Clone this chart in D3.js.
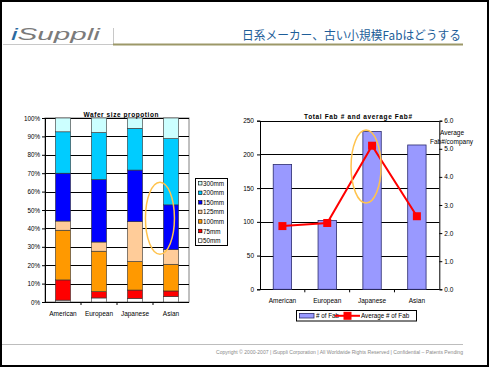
<!DOCTYPE html>
<html>
<head>
<meta charset="utf-8">
<script src="https://cdn.jsdelivr.net/npm/d3@7"></script>
<style>
  body { margin: 0; background: #fff; }
  svg text { font-family: "Liberation Sans", Arial, sans-serif; }
</style>
</head>
<body>
<div id="slide"></div>
<script>
const regions = ["American", "European", "Japanese", "Asian"];
const sizes = ["50mm", "75mm", "100mm", "125mm", "150mm", "200mm", "300mm"];
const share50 = [1, 2.2, 2, 3];
const share75 = [11, 3.4, 4.5, 3];
const share100 = [27, 22, 15.5, 14.5];
const share125 = [5, 5, 21.7, 8];
const share150 = [26, 34, 28, 24.3];
const share200 = [22.5, 25.5, 22.7, 36];
const share300 = [7.5, 7.9, 5.6, 11.2];
const sizeColors = ["#ffffff", "#ff0000", "#ff9900", "#ffcc99", "#0000ff", "#00ccff", "#ccffff"];
const pctTicks = [0, 10, 20, 30, 40, 50, 60, 70, 80, 90, 100];

const fabCount = [185, 102, 234, 214];
const avgFab = [2.25, 2.36, 5.11, 2.6];
const fabTicks = [0, 50, 100, 150, 200, 250];
const avgTicks = [0, 1, 2, 3, 4, 5, 6];

const W = 489, H = 367;
const svg = d3.select("#slide").append("svg")
    .attr("width", W)
    .attr("height", H);

svg.append("rect")
    .attr("x", 1).attr("y", 1)
    .attr("width", W - 2).attr("height", H - 2)
    .attr("fill", "#fff")
    .attr("stroke", "#000")
    .attr("stroke-width", 2);

// header
svg.append("text")
    .attr("x", 11).attr("y", 40)
    .attr("textLength", 89).attr("lengthAdjust", "spacingAndGlyphs")
    .style("font-size", "17px").style("font-style", "italic")
    .html('<tspan fill="#2c6aa0">i</tspan><tspan fill="#7b7b7b">Suppli</tspan>');
svg.append("line").attr("x1", 3).attr("x2", 113).attr("y1", 44.5).attr("y2", 44.5)
    .attr("stroke", "#c8c8c8").attr("stroke-width", 1);
svg.append("line").attr("x1", 113.5).attr("x2", 113.5).attr("y1", 28).attr("y2", 44)
    .attr("stroke", "#c8c8c8").attr("stroke-width", 1);
svg.append("line").attr("x1", 113).attr("x2", 463).attr("y1", 44.5).attr("y2", 44.5)
    .attr("stroke", "#9c9868").attr("stroke-width", 2);
svg.append("text")
    .attr("x", 461).attr("y", 39.5)
    .attr("text-anchor", "end")
    .attr("textLength", 219).attr("lengthAdjust", "spacingAndGlyphs")
    .attr("fill", "#1e5e99")
    .style("font-family", "'Noto Sans CJK JP', sans-serif")
    .style("font-size", "12.3px")
    .text("日系メーカー、古い小規模Fabはどうする");

// footer
svg.append("line").attr("x1", 2).attr("x2", 463).attr("y1", 344.5).attr("y2", 344.5)
    .attr("stroke", "#bdbdbd").attr("stroke-width", 1);
svg.append("text")
    .attr("x", 463).attr("y", 354)
    .attr("text-anchor", "end")
    .attr("textLength", 247).attr("lengthAdjust", "spacingAndGlyphs")
    .attr("fill", "#8a8a8a")
    .style("font-size", "5px")
    .text("Copyright \u00a9 2000-2007  |  iSuppli Corporation  |  All Worldwide Rights Reserved  |  Confidential \u2013 Patents Pending");

// ---------- left: stacked percentage bars ----------
function drawWaferChart() {
    const left = 45, right = 189, top = 118, bottom = 302;
    const g = svg.append("g");

    const x = d3.scaleBand().domain(regions).range([left, right])
        .paddingInner(0.58).paddingOuter(0.29);
    const y = d3.scaleLinear().domain([0, 100]).range([bottom, top]);

    const rows = regions.map((r, i) => ({
        region: r,
        "50mm": share50[i], "75mm": share75[i], "100mm": share100[i], "125mm": share125[i],
        "150mm": share150[i], "200mm": share200[i], "300mm": share300[i]
    }));
    const series = d3.stack().keys(sizes)(rows);

    g.append("rect")
        .attr("x", left).attr("y", top)
        .attr("width", right - left).attr("height", bottom - top)
        .attr("fill", "none").attr("stroke", "#808080");

    g.append("g")
        .selectAll("line")
        .data(pctTicks)
      .enter().append("line")
        .attr("x1", left).attr("x2", right)
        .attr("y1", d => Math.round(y(d)) + 0.5).attr("y2", d => Math.round(y(d)) + 0.5)
        .attr("stroke", "#000").attr("stroke-width", 1);

    const yAxis = g.append("g")
        .attr("transform", `translate(${left},0)`)
        .call(d3.axisLeft(y).tickValues(pctTicks).tickFormat(d => d + "%").tickSize(3).tickPadding(2));
    yAxis.select(".domain").attr("stroke", "#000");
    yAxis.selectAll("text").style("font-size", "6.3px").attr("fill", "#000");

    g.append("line").attr("x1", left).attr("x2", right).attr("y1", bottom + 0.5).attr("y2", bottom + 0.5)
        .attr("stroke", "#000");
    g.append("g")
        .selectAll("line")
        .data(regions.slice(1))
      .enter().append("line")
        .attr("x1", d => x(d) - x.step() * x.paddingInner() / 2)
        .attr("x2", d => x(d) - x.step() * x.paddingInner() / 2)
        .attr("y1", bottom).attr("y2", bottom + 3)
        .attr("stroke", "#000");

    g.append("g")
        .selectAll("text")
        .data(regions)
      .enter().append("text")
        .attr("x", d => x(d) + x.bandwidth() / 2)
        .attr("y", 315.5)
        .attr("text-anchor", "middle")
        .style("font-size", "6.5px")
        .text(d => d);

    g.selectAll(".layer")
        .data(series)
      .enter().append("g")
        .attr("class", "layer")
        .attr("fill", (d, i) => sizeColors[i])
      .selectAll("rect")
        .data(d => d)
      .enter().append("rect")
        .attr("x", d => x(d.data.region))
        .attr("y", d => y(d[1]))
        .attr("width", x.bandwidth())
        .attr("height", d => y(d[0]) - y(d[1]))
        .attr("stroke", "#333")
        .attr("stroke-width", 0.6);

    g.append("text")
        .attr("x", 121).attr("y", 116.5)
        .attr("text-anchor", "middle")
        .attr("textLength", 75)
        .style("font-size", "6.5px").style("font-weight", "bold")
        .text("Wafer size propotion");

    // legend
    const lg = g.append("g");
    lg.append("rect")
        .attr("x", 195.5).attr("y", 178.5).attr("width", 32).attr("height", 67)
        .attr("fill", "#fff").attr("stroke", "#000");
    const order = sizes.slice().reverse();
    const item = lg.selectAll(".item")
        .data(order)
      .enter().append("g")
        .attr("transform", (d, i) => `translate(0,${183.5 + i * 9.55})`);
    item.append("rect")
        .attr("x", 198.5).attr("y", -2).attr("width", 3.5).attr("height", 3.5)
        .attr("fill", d => sizeColors[sizes.indexOf(d)])
        .attr("stroke", "#000").attr("stroke-width", 0.6);
    item.append("text")
        .attr("x", 203).attr("y", 2.3)
        .style("font-size", "6.3px")
        .text(d => d);

    g.append("ellipse")
        .attr("cx", x("Asian") - 3.5).attr("cy", y(45.5))
        .attr("rx", 14.5).attr("ry", 36)
        .attr("fill", "none").attr("stroke", "#ffc34d").attr("stroke-width", 1.5);
}

// ---------- right: bars + line on two axes ----------
function drawFabChart() {
    const left = 260, right = 439.3, top = 120.7, bottom = 289.3;
    const g = svg.append("g");

    const x = d3.scaleBand().domain(regions).range([left, right])
        .paddingInner(0.59).paddingOuter(0.295);
    const yL = d3.scaleLinear().domain([0, 250]).range([bottom, top]);
    const yR = d3.scaleLinear().domain([0, 6]).range([bottom, top]);

    g.append("g")
        .selectAll("line")
        .data(fabTicks)
      .enter().append("line")
        .attr("x1", left).attr("x2", right)
        .attr("y1", d => Math.round(yL(d)) + 0.5).attr("y2", d => Math.round(yL(d)) + 0.5)
        .attr("stroke", "#000");

    const axL = g.append("g")
        .attr("transform", `translate(${left},0)`)
        .call(d3.axisLeft(yL).tickValues(fabTicks).tickSize(3).tickPadding(3));
    axL.selectAll("text").style("font-size", "6.5px");

    const axR = g.append("g")
        .attr("transform", `translate(${right},0)`)
        .call(d3.axisRight(yR).tickValues(avgTicks).tickFormat(d3.format(".1f")).tickSize(3).tickPadding(2));
    axR.selectAll("text").style("font-size", "6.5px");

    g.append("g")
        .selectAll("line")
        .data(regions.slice(1))
      .enter().append("line")
        .attr("x1", d => x(d) - x.step() * x.paddingInner() / 2)
        .attr("x2", d => x(d) - x.step() * x.paddingInner() / 2)
        .attr("y1", bottom).attr("y2", bottom + 3)
        .attr("stroke", "#000");

    g.selectAll(".fab")
        .data(fabCount)
      .enter().append("rect")
        .attr("class", "fab")
        .attr("x", (d, i) => x(regions[i]))
        .attr("y", d => yL(d))
        .attr("width", x.bandwidth())
        .attr("height", d => bottom - yL(d))
        .attr("fill", "#9999ff")
        .attr("stroke", "#2b2b6e")
        .attr("stroke-width", 0.8);

    g.append("g")
        .selectAll("text")
        .data(regions)
      .enter().append("text")
        .attr("x", d => x(d) + x.bandwidth() / 2)
        .attr("y", 302.5)
        .attr("text-anchor", "middle")
        .style("font-size", "6.5px")
        .text(d => d);

    const line = d3.line()
        .x((d, i) => x(regions[i]) + x.bandwidth() / 2)
        .y(d => yR(d));
    g.append("path")
        .datum(avgFab)
        .attr("d", line)
        .attr("fill", "none")
        .attr("stroke", "#ff0000")
        .attr("stroke-width", 2);
    g.selectAll(".mk")
        .data(avgFab)
      .enter().append("rect")
        .attr("class", "mk")
        .attr("x", (d, i) => x(regions[i]) + x.bandwidth() / 2 - 4)
        .attr("y", d => yR(d) - 4)
        .attr("width", 8).attr("height", 8)
        .attr("fill", "#ff0000");

    g.append("text")
        .attr("x", 358).attr("y", 118.5)
        .attr("text-anchor", "middle")
        .attr("textLength", 108)
        .style("font-size", "6.5px").style("font-weight", "bold")
        .text("Total Fab # and average Fab#");

    g.append("text")
        .attr("x", 452).attr("y", 134.8)
        .attr("text-anchor", "middle")
        .style("font-size", "6.5px")
        .text("Average");
    g.append("text")
        .attr("x", 451.5).attr("y", 143.5)
        .attr("text-anchor", "middle")
        .style("font-size", "6.5px")
        .text("Fab#/company");

    // legend
    const lg = g.append("g");
    lg.append("rect")
        .attr("x", 296.5).attr("y", 310.5).attr("width", 120).attr("height", 10.5)
        .attr("fill", "#fff").attr("stroke", "#000");
    lg.append("rect")
        .attr("x", 299.5).attr("y", 313.5).attr("width", 14.5).attr("height", 4.5)
        .attr("fill", "#9999ff").attr("stroke", "#2b2b6e").attr("stroke-width", 0.8);
    lg.append("text").attr("x", 316).attr("y", 318.3)
        .style("font-size", "6.3px").text("# of Fab");
    lg.append("line").attr("x1", 335).attr("x2", 360).attr("y1", 315.8).attr("y2", 315.8)
        .attr("stroke", "#ff0000").attr("stroke-width", 2);
    lg.append("rect").attr("x", 343.5).attr("y", 311.8).attr("width", 8).attr("height", 8)
        .attr("fill", "#ff0000");
    lg.append("text").attr("x", 361).attr("y", 318.3)
        .style("font-size", "6.3px").text("Average # of Fab");

    g.append("ellipse")
        .attr("cx", x("Japanese") + x.bandwidth() / 2 - 6).attr("cy", yL(182))
        .attr("rx", 15).attr("ry", 36.5)
        .attr("fill", "none").attr("stroke", "#ffc34d").attr("stroke-width", 1.5);
}

drawWaferChart();
drawFabChart();
</script>
</body>
</html>
